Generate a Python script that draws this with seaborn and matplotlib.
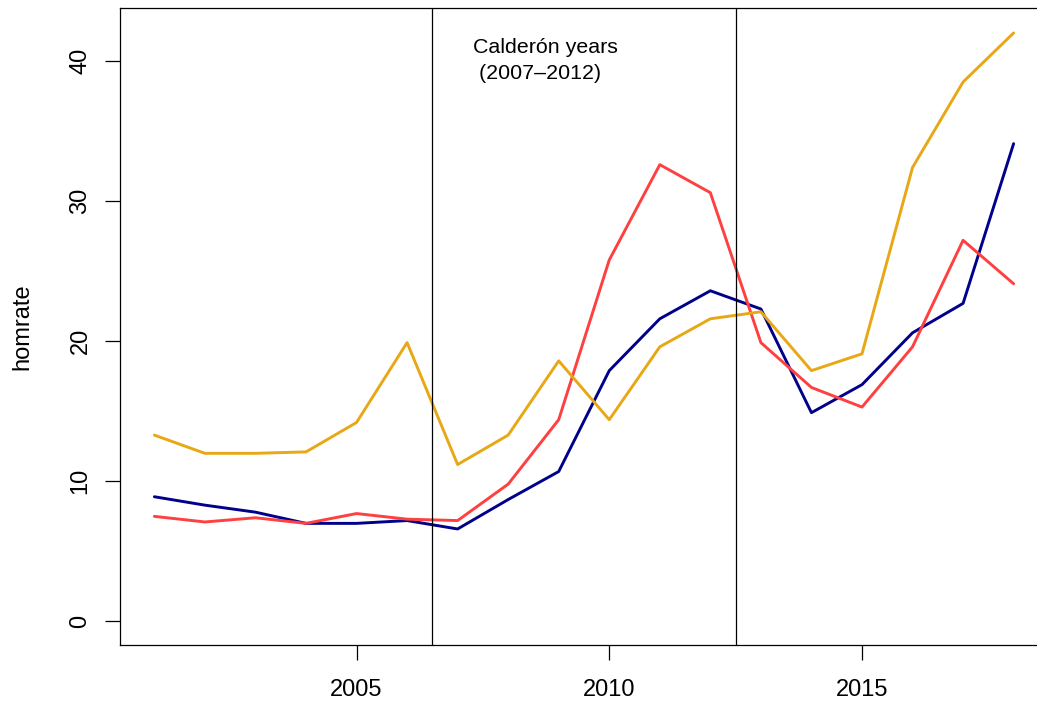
"""
Homicide rate by year, three series, with the Calderón years marked.
"""
import numpy as np
import pandas as pd
import matplotlib
matplotlib.use("Agg")
import matplotlib.pyplot as plt
import seaborn as sns

# ── data ────────────────────────────────────────────────────────────────
years = list(range(2001, 2019))
navy_vals = [8.9, 8.3, 7.8, 7.0, 7.0, 7.2, 6.6, 8.7, 10.7, 17.9, 21.6, 23.6,
             22.3, 14.9, 16.9, 20.6, 22.7, 34.1]
red_vals = [7.5, 7.1, 7.4, 7.0, 7.7, 7.3, 7.2, 9.8, 14.4, 25.8, 32.6, 30.6,
            19.9, 16.7, 15.3, 19.6, 27.2, 24.1]
orange_vals = [13.3, 12.0, 12.0, 12.1, 14.2, 19.9, 11.2, 13.3, 18.6, 14.4,
               19.6, 21.6, 22.1, 17.9, 19.1, 32.4, 38.5, 42.0]
series_names = ["navy", "red", "orange"]
period_bounds = [2006.5, 2012.5]
x_ticks = [2005, 2010, 2015]
y_ticks = [0, 10, 20, 30, 40]
note_text = "Calderón years\n (2007–2012)"

palette = {"navy": "#00008B", "red": "#FF4040", "orange": "#E8A815"}

df = pd.DataFrame({
    "year": years * 3,
    "homrate": navy_vals + red_vals + orange_vals,
    "series": np.repeat(series_names, len(years)),
})

sns.set_style("white")
plt.rcParams["font.family"] = ["Liberation Sans", "DejaVu Sans"]
plt.rcParams["text.color"] = "black"
plt.rcParams["axes.labelcolor"] = "black"
plt.rcParams["xtick.color"] = "black"
plt.rcParams["ytick.color"] = "black"

fig = plt.figure(figsize=(10.37, 7.02), dpi=100)
ax = fig.add_axes([0.1157, 0.0812, 0.8949, 0.9074])

sns.lineplot(data=df, x="year", y="homrate", hue="series", palette=palette,
             linewidth=2.1, legend=False, ax=ax)

for xb in period_bounds:
    ax.axvline(xb, color="black", linewidth=0.9)

# left-aligned note, second line keeps its leading space
ax.text(2007.3, 40.05, note_text, ha="left", va="center", multialignment="left",
        fontsize=15.4, linespacing=1.5)

ax.set_xlim(2000.32, 2018.68)
ax.set_ylim(-1.68, 43.78)
ax.set_xticks(x_ticks)
ax.set_yticks(y_ticks)
ax.set_xlabel("")
ax.set_ylabel("homrate", fontsize=17, labelpad=26)
ax.tick_params(axis="both", direction="out", length=10.5, width=0.9,
               labelsize=17, bottom=True, left=True)
ax.tick_params(axis="x", pad=14)
ax.tick_params(axis="y", pad=10)
for lbl in ax.get_yticklabels():
    lbl.set_rotation(90)
    lbl.set_va("center")
for sp in ax.spines.values():
    sp.set_color("black")
    sp.set_linewidth(0.9)

fig.savefig("out.png", dpi=100)
plt.close(fig)
